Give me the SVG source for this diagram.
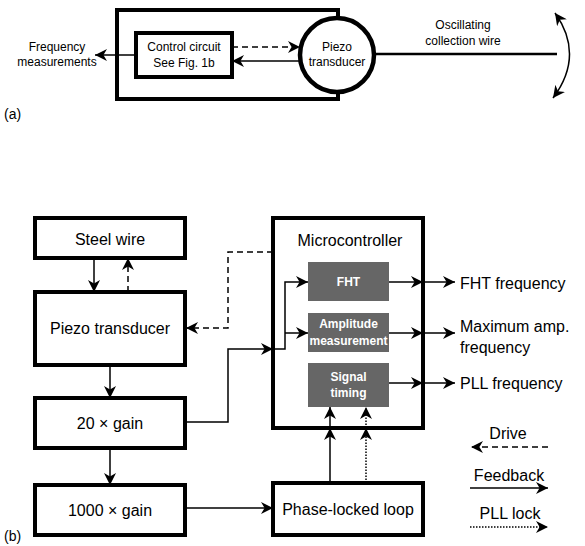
<svg xmlns="http://www.w3.org/2000/svg" width="585" height="546" viewBox="0 0 585 546">
<style>
  text { font-family: "Liberation Sans", Arial, sans-serif; fill: #000; }
  .sm { font-size: 12px; }
  .lg { font-size: 16px; }
  .lab { font-size: 14px; }
  .gt { font-size: 12px; font-weight: bold; fill: #fff; }
  .box { fill: #fff; stroke: #000; stroke-width: 4; }
  .gbox { fill: #666; stroke: none; }
  .ln { fill: none; stroke: #000; stroke-width: 1.5; }
  .dash { stroke-dasharray: 6 4; }
  .dot { stroke-dasharray: 1.5 1.5; }
</style>
<defs>
  <marker id="ah" viewBox="0 0 10 10" refX="10" refY="5" markerWidth="12" markerHeight="12" markerUnits="userSpaceOnUse" orient="auto-start-reverse">
    <path d="M0,0 L10,5 L0,10 L3,5 z" fill="#000"/>
  </marker>
</defs>

<!-- Part (a) -->
<g id="a-outer">
  <path d="M338,17 L338,10 L117,10 L117,99 L338,99 L338,92" fill="none" stroke="#000" stroke-width="4"/>
</g>
<g id="a-control">
  <rect class="box" x="136" y="33" width="96" height="44"/>
  <text class="sm" x="184" y="51" text-anchor="middle">Control circuit</text>
  <text class="sm" x="184" y="67" text-anchor="middle">See Fig. 1b</text>
</g>
<g id="a-piezo">
  <circle cx="337" cy="55" r="37" fill="#fff" stroke="#000" stroke-width="4.5"/>
  <text class="sm" x="337" y="51" text-anchor="middle">Piezo</text>
  <text class="sm" x="337" y="66" text-anchor="middle">transducer</text>
</g>
<g id="a-labels">
  <text class="sm" x="57" y="51" text-anchor="middle">Frequency</text>
  <text class="sm" x="57" y="66" text-anchor="middle">measurements</text>
  <text class="sm" x="463" y="29" text-anchor="middle">Oscillating</text>
  <text class="sm" x="463" y="45" text-anchor="middle">collection wire</text>
  <text class="lab" x="4" y="119">(a)</text>
</g>
<g id="a-connectors">
  <line class="ln" x1="136" y1="55" x2="95" y2="55" marker-end="url(#ah)"/>
  <line class="ln dash" x1="232" y1="47" x2="300" y2="47" marker-end="url(#ah)"/>
  <line class="ln" x1="302" y1="61" x2="232" y2="61" marker-end="url(#ah)"/>
  <line x1="374" y1="54" x2="557" y2="54" stroke="#000" stroke-width="2.5"/>
  <path class="ln" d="M555,13 Q585,55 553,98" marker-start="url(#ah)" marker-end="url(#ah)"/>
</g>

<!-- Part (b) -->
<g id="steel-wire">
  <rect class="box" x="35" y="218" width="150" height="40"/>
  <text class="lg" x="110" y="245" text-anchor="middle">Steel wire</text>
</g>
<g id="piezo-transducer">
  <rect class="box" x="35" y="292" width="150" height="73"/>
  <text class="lg" x="110" y="334" text-anchor="middle">Piezo transducer</text>
</g>
<g id="gain20">
  <rect class="box" x="35" y="398" width="150" height="50"/>
  <text class="lg" x="110" y="429" text-anchor="middle">20 × gain</text>
</g>
<g id="gain1000">
  <rect class="box" x="35" y="485" width="150" height="50"/>
  <text class="lg" x="110" y="516" text-anchor="middle">1000 × gain</text>
</g>
<g id="microcontroller">
  <rect class="box" x="273" y="218" width="150" height="210"/>
  <text class="lg" x="350" y="246" text-anchor="middle">Microcontroller</text>
</g>
<g id="fht">
  <rect class="gbox" x="308" y="262" width="81" height="39"/>
  <text class="gt" x="348.5" y="286" text-anchor="middle">FHT</text>
</g>
<g id="amplitude">
  <rect class="gbox" x="308" y="313" width="81" height="39"/>
  <text class="gt" x="348.5" y="328" text-anchor="middle">Amplitude</text>
  <text class="gt" x="348.5" y="345" text-anchor="middle">measurement</text>
</g>
<g id="signal-timing">
  <rect class="gbox" x="308" y="363" width="81" height="44"/>
  <text class="gt" x="348.5" y="381" text-anchor="middle">Signal</text>
  <text class="gt" x="348.5" y="397" text-anchor="middle">timing</text>
</g>
<g id="pll">
  <rect class="box" x="273" y="483" width="150" height="52"/>
  <text class="lg" x="348" y="515" text-anchor="middle">Phase-locked loop</text>
</g>
<g id="outputs">
  <text class="lg" x="460" y="289">FHT frequency</text>
  <text class="lg" x="460" y="332">Maximum amp.</text>
  <text class="lg" x="460" y="353">frequency</text>
  <text class="lg" x="460" y="389">PLL frequency</text>
  <text class="lab" x="4" y="541">(b)</text>
</g>
<g id="legend">
  <text class="lg" x="508" y="439" text-anchor="middle">Drive</text>
  <line class="ln dash" x1="548" y1="447" x2="471" y2="447" marker-end="url(#ah)"/>
  <text class="lg" x="509" y="481" text-anchor="middle">Feedback</text>
  <line class="ln" x1="470" y1="488" x2="548" y2="488" marker-end="url(#ah)"/>
  <text class="lg" x="510" y="519" text-anchor="middle">PLL lock</text>
  <line class="ln dot" x1="470" y1="527" x2="548" y2="527" marker-end="url(#ah)"/>
</g>
<g id="connectors">
  <line class="ln" x1="94" y1="258" x2="94" y2="292" marker-end="url(#ah)"/>
  <line class="ln dash" x1="128" y1="292" x2="128" y2="258" marker-end="url(#ah)"/>
  <path class="ln dash" d="M273,252 L228,252 L228,328 L186,328" marker-end="url(#ah)"/>
  <line class="ln" x1="110" y1="365" x2="110" y2="398" marker-end="url(#ah)"/>
  <line class="ln" x1="110" y1="448" x2="110" y2="485" marker-end="url(#ah)"/>
  <line class="ln" x1="185" y1="508" x2="273" y2="508" marker-end="url(#ah)"/>
  <path class="ln" d="M185,422 L228,422 L228,349 L273,349" marker-end="url(#ah)"/>
  <path class="ln" d="M273,349 L285,349 L285,282 L308,282" marker-end="url(#ah)"/>
  <line class="ln" x1="285" y1="333" x2="308" y2="333" marker-end="url(#ah)"/>
  <line class="ln" x1="389" y1="282" x2="423" y2="282" marker-end="url(#ah)"/>
  <line class="ln" x1="423" y1="282" x2="455" y2="282" marker-end="url(#ah)"/>
  <line class="ln" x1="389" y1="333" x2="423" y2="333" marker-end="url(#ah)"/>
  <line class="ln" x1="423" y1="333" x2="455" y2="333" marker-end="url(#ah)"/>
  <line class="ln" x1="389" y1="383" x2="423" y2="383" marker-end="url(#ah)"/>
  <line class="ln" x1="423" y1="383" x2="455" y2="383" marker-end="url(#ah)"/>
  <line class="ln" x1="330" y1="483" x2="330" y2="428" marker-end="url(#ah)"/>
  <line class="ln" x1="330" y1="428" x2="330" y2="407" marker-end="url(#ah)"/>
  <line class="ln dot" x1="366" y1="483" x2="366" y2="428" marker-end="url(#ah)"/>
  <line class="ln dot" x1="366" y1="428" x2="366" y2="407" marker-end="url(#ah)"/>
</g>
</svg>
